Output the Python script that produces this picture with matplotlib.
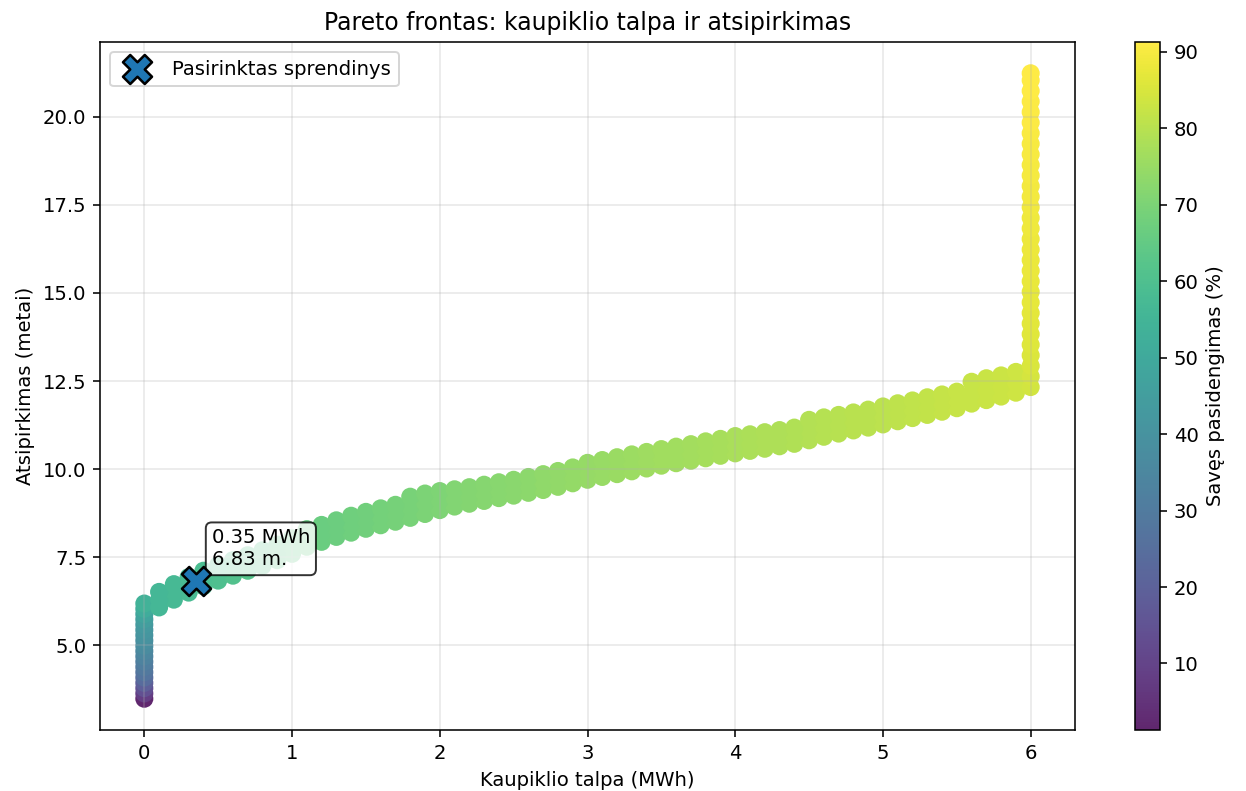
import numpy as np
import matplotlib
matplotlib.use("Agg")
import matplotlib.pyplot as plt
from matplotlib.colors import ListedColormap

# storage capacity grid along the curved part of the front (MWh)
cap = [0.1, 0.2, 0.3, 0.4, 0.5, 0.6, 0.7, 0.8, 0.9, 1.0,
       1.1, 1.2, 1.3, 1.4, 1.5, 1.6, 1.7, 1.8, 1.9, 2.0,
       2.1, 2.2, 2.3, 2.4, 2.5, 2.6, 2.7, 2.8, 2.9, 3.0,
       3.1, 3.2, 3.3, 3.4, 3.5, 3.6, 3.7, 3.8, 3.9, 4.0,
       4.1, 4.2, 4.3, 4.4, 4.5, 4.6, 4.7, 4.8, 4.9, 5.0,
       5.1, 5.2, 5.3, 5.4, 5.5, 5.6, 5.7, 5.8, 5.9]

# payback (years): lower, middle and upper solutions for each capacity
pb_lo = [6.08, 6.30, 6.50, 6.68, 6.84, 6.98, 7.12, 7.26, 7.42, 7.60,
         7.80, 7.94, 8.08, 8.20, 8.31, 8.41, 8.51, 8.62, 8.73, 8.84,
         8.94, 9.02, 9.10, 9.18, 9.25, 9.33, 9.41, 9.50, 9.60, 9.70,
         9.78, 9.86, 9.94, 10.02, 10.10, 10.17, 10.24, 10.31, 10.38, 10.45,
         10.52, 10.58, 10.65, 10.72, 10.82, 10.92, 11.01, 11.10, 11.18, 11.27,
         11.36, 11.45, 11.54, 11.63, 11.73, 11.86, 11.96, 12.06, 12.17]
pb_mid = [6.30, 6.52, 6.72, 6.90, 7.06, 7.20, 7.34, 7.48, 7.64, 7.82,
          8.05, 8.18, 8.32, 8.45, 8.56, 8.66, 8.76, 8.94, 9.04, 9.12,
          9.18, 9.25, 9.32, 9.40, 9.47, 9.55, 9.63, 9.72, 9.82, 9.94,
          10.02, 10.10, 10.18, 10.25, 10.33, 10.40, 10.47, 10.55, 10.62, 10.70,
          10.75, 10.82, 10.88, 10.95, 11.12, 11.20, 11.28, 11.36, 11.44, 11.53,
          11.62, 11.70, 11.79, 11.88, 11.97, 12.16, 12.26, 12.36, 12.46]
pb_hi = [6.52, 6.74, 6.94, 7.12, 7.28, 7.42, 7.56, 7.70, 7.86, 8.04,
         8.30, 8.42, 8.55, 8.68, 8.79, 8.89, 8.99, 9.22, 9.31, 9.38,
         9.43, 9.49, 9.56, 9.63, 9.70, 9.78, 9.86, 9.95, 10.05, 10.18,
         10.26, 10.34, 10.42, 10.49, 10.57, 10.64, 10.71, 10.79, 10.86, 10.94,
         10.99, 11.05, 11.11, 11.18, 11.40, 11.47, 11.54, 11.61, 11.69, 11.78,
         11.87, 11.95, 12.04, 12.12, 12.20, 12.48, 12.58, 12.66, 12.76]
ss_band = [56.0, 57.0, 58.0, 59.0, 60.0, 61.0, 62.0, 63.0, 64.0, 65.0,
           66.0, 66.5, 67.0, 67.5, 68.0, 68.5, 69.0, 69.5, 70.0, 70.5,
           71.0, 71.4, 71.8, 72.2, 72.6, 73.0, 73.4, 73.8, 74.2, 74.6,
           75.0, 75.3, 75.6, 75.9, 76.2, 76.5, 76.8, 77.1, 77.4, 77.7,
           78.0, 78.3, 78.6, 78.9, 79.2, 79.5, 79.8, 80.1, 80.4, 80.7,
           81.0, 81.3, 81.6, 81.9, 82.2, 82.5, 82.8, 83.1, 83.4]

# no storage (0 MWh)
pb_zero = [3.49, 3.64, 3.79, 3.94, 4.09, 4.24, 4.39, 4.54, 4.69, 4.84,
           4.99, 5.14, 5.29, 5.44, 5.59, 5.74, 5.89, 6.04, 6.19]
ss_zero = [1.3, 8.0, 14.0, 19.0, 24.0, 27.0, 29.0, 31.0, 33.0, 35.0,
           37.0, 38.5, 40.0, 41.5, 43.0, 45.0, 48.0, 51.0, 54.0]

# maximum storage (6 MWh)
pb_max = [12.33, 12.63, 12.93, 13.23, 13.53, 13.83, 14.13, 14.43, 14.73, 15.03,
          15.33, 15.63, 15.93, 16.23, 16.53, 16.83, 17.13, 17.43, 17.73, 18.03,
          18.33, 18.63, 18.93, 19.23, 19.53, 19.83, 20.13, 20.43, 20.73, 21.03,
          21.23]
ss_max = [84.0, 84.6, 85.1, 85.5, 85.9, 86.2, 86.5, 86.8, 87.1, 87.4,
          87.6, 87.8, 88.0, 88.2, 88.4, 88.6, 88.8, 89.0, 89.2, 89.4,
          89.6, 89.8, 90.0, 90.2, 90.4, 90.6, 90.8, 90.9, 91.0, 91.2,
          91.3]

sel_cap = 0.35
sel_pb = 6.83

xs = np.concatenate([np.zeros(len(pb_zero)), cap, cap, cap, np.full(len(pb_max), 6.0)])
ys = np.concatenate([pb_zero, pb_lo, pb_mid, pb_hi, pb_max])
cs = np.concatenate([ss_zero, ss_band, ss_band, ss_band, ss_max])

# viridis seen through alpha 0.85 on white, drawn opaque so overlaps stay flat
vir = plt.get_cmap("viridis")(np.linspace(0, 1, 256))
vir[:, :3] = vir[:, :3] * 0.85 + 0.15
cmap = ListedColormap(vir)

W, H, DPI = 1246, 791, 141
fig = plt.figure(figsize=(W / DPI, H / DPI), dpi=DPI)
ax = fig.add_axes([100 / W, 1 - 730 / H, 975 / W, 688 / H])
cax = fig.add_axes([1135 / W, 1 - 730 / H, 25 / W, 688 / H])

sc = ax.scatter(xs, ys, c=cs, cmap=cmap, s=85, edgecolors="none")
ax.scatter([sel_cap], [sel_pb], marker="X", s=220, color="tab:blue",
           edgecolors="black", linewidths=1.3, zorder=5, label="Pasirinktas sprendinys")
ax.annotate(f"{sel_cap:.2f} MWh\n{sel_pb:.2f} m.", (sel_cap, sel_pb),
            xytext=(8, 8), textcoords="offset points", fontsize=10,
            bbox=dict(boxstyle="round,pad=0.3", fc="white", ec="black", alpha=0.8))

ax.set_title("Pareto frontas: kaupiklio talpa ir atsipirkimas", fontsize=12)
ax.set_xlabel("Kaupiklio talpa (MWh)")
ax.set_ylabel("Atsipirkimas (metai)")
ax.grid(True, alpha=0.3)
ax.legend(loc="upper left")

cb = fig.colorbar(sc, cax=cax)
cb.set_label("Savęs pasidengimas (%)")

fig.savefig("out.png", dpi=DPI)
